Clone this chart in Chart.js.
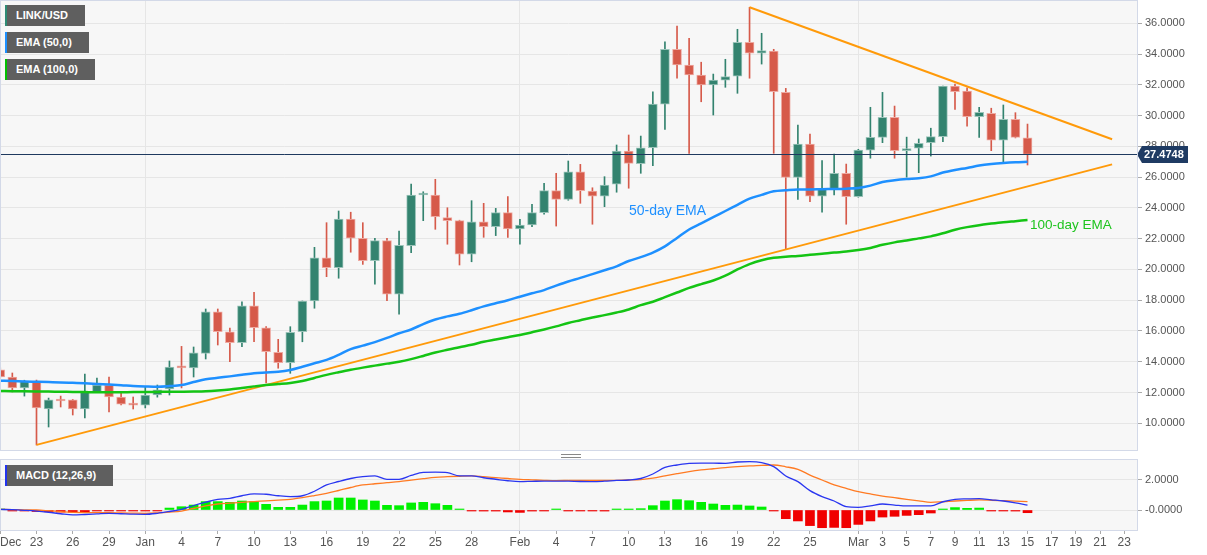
<!DOCTYPE html>
<html>
<head>
<meta charset="utf-8">
<title>LINK/USD</title>
<script src="https://cdn.jsdelivr.net/npm/chart.js@4.4.1/dist/chart.umd.min.js"></script>
<style>
  html, body { margin: 0; padding: 0; background: #fff; }
  body { position: relative; width: 1207px; height: 555px; overflow: hidden; font-family: "Liberation Sans", Arial, sans-serif; }
  canvas { position: absolute; left: 0; }
  #mainChart { top: 0; }
  #macdChart { top: 452px; }
  .tag { position: absolute; left: 5px; height: 21px; line-height: 21px; background: #5f5f5f; color: #fff; font-size: 11px; font-weight: bold; padding: 0 17px 0 9px; border-left: 2px solid; white-space: nowrap; }
  .note { position: absolute; white-space: nowrap; }
  .grip { position: absolute; left: 561px; top: 454px; width: 20px; height: 2px; border-top: 1px solid #888; border-bottom: 1px solid #888; }
</style>
</head>
<body>
<canvas id="mainChart" width="1207" height="452"></canvas>
<canvas id="macdChart" width="1207" height="103"></canvas>
<div class="tag" style="top:5px;border-color:#2e8b75">LINK/USD</div>
<div class="tag" style="top:32px;border-color:#1e90ff">EMA (50,0)</div>
<div class="tag" style="top:59px;border-color:#00c000">EMA (100,0)</div>
<div class="tag" style="top:465px;border-color:#2233ee">MACD (12,26,9)</div>
<div class="note" style="left:629px;top:202px;font-size:14px;color:#1e90ff">50-day EMA</div>
<div class="note" style="left:1030px;top:217px;font-size:13.5px;color:#1ec41e">100-day EMA</div>
<div class="grip"></div>
<script>
// daily candles, Dec 20 .. Mar 15
const dates = [
  '2020-12-20','2020-12-21','2020-12-22','2020-12-23','2020-12-24','2020-12-25','2020-12-26','2020-12-27','2020-12-28','2020-12-29','2020-12-30','2020-12-31',
  '2021-01-01','2021-01-02','2021-01-03','2021-01-04','2021-01-05','2021-01-06','2021-01-07','2021-01-08','2021-01-09','2021-01-10',
  '2021-01-11','2021-01-12','2021-01-13','2021-01-14','2021-01-15','2021-01-16','2021-01-17','2021-01-18','2021-01-19','2021-01-20',
  '2021-01-21','2021-01-22','2021-01-23','2021-01-24','2021-01-25','2021-01-26','2021-01-27','2021-01-28','2021-01-29','2021-01-30','2021-01-31',
  '2021-02-01','2021-02-02','2021-02-03','2021-02-04','2021-02-05','2021-02-06','2021-02-07','2021-02-08','2021-02-09','2021-02-10',
  '2021-02-11','2021-02-12','2021-02-13','2021-02-14','2021-02-15','2021-02-16','2021-02-17','2021-02-18','2021-02-19','2021-02-20',
  '2021-02-21','2021-02-22','2021-02-23','2021-02-24','2021-02-25','2021-02-26','2021-02-27','2021-02-28',
  '2021-03-01','2021-03-02','2021-03-03','2021-03-04','2021-03-05','2021-03-06','2021-03-07','2021-03-08','2021-03-09','2021-03-10',
  '2021-03-11','2021-03-12','2021-03-13','2021-03-14','2021-03-15'
];
const openP = [
  13.47,13.01,12.30,12.69,10.93,11.55,11.52,10.93,12.04,12.49,11.71,11.25,
  11.18,11.84,12.23,13.70,13.60,14.55,17.25,15.95,15.24,17.63,16.20,14.61,13.94,15.95,17.95,20.76,20.11,23.28,22.03,20.57,21.87,18.40,21.55,24.84,24.84,23.37,23.17,21.00,23.10,22.78,23.69,
  22.63,22.89,23.69,25.12,24.56,26.35,25.10,24.77,25.54,27.70,26.88,27.91,30.75,34.31,33.29,32.64,31.99,32.31,32.57,34.76,34.05,34.20,31.51,25.99,28.15,24.77,25.21,26.25,
  24.73,27.76,28.59,29.89,27.72,27.88,28.24,28.63,31.92,31.60,29.93,30.15,28.41,29.76,28.56
];
const highP = [
  13.60,13.27,12.80,12.81,11.64,11.77,11.55,13.20,12.94,13.01,11.96,11.71,
  12.36,12.49,14.05,15.00,14.96,17.43,17.43,16.19,17.90,18.52,16.28,15.46,16.28,17.95,21.44,23.04,23.80,23.72,23.04,22.03,22.03,22.50,25.55,25.05,25.86,24.01,23.20,24.47,24.30,23.97,24.73,
  23.26,24.24,25.60,26.25,27.05,26.83,25.31,26.03,28.09,28.74,28.67,31.55,34.80,35.82,35.02,33.47,32.70,33.66,35.61,37.04,35.35,34.31,31.77,29.39,28.80,27.07,27.50,26.85,
  27.81,30.54,31.51,30.62,28.60,28.48,29.18,31.92,32.05,31.81,30.54,30.48,30.69,30.19,29.45
];
const lowP = [
  12.95,12.04,11.77,8.59,9.76,11.06,10.54,10.35,12.00,10.74,11.19,10.93,
  11.00,11.70,11.84,12.30,13.01,14.18,15.09,14.00,14.98,15.30,12.62,13.58,13.25,15.30,17.48,19.53,19.43,21.12,20.33,19.04,17.97,17.09,21.09,23.17,22.61,21.64,20.29,20.50,22.09,22.20,22.09,
  21.64,22.78,23.59,22.82,24.50,24.30,22.94,24.08,25.02,25.28,26.25,26.74,29.11,32.43,27.55,30.90,30.04,31.84,31.45,32.43,33.35,27.55,21.31,24.56,24.40,23.72,24.84,22.94,
  24.70,27.23,28.24,27.23,26.00,26.29,27.37,28.30,30.41,29.32,28.59,27.72,27.00,28.55,26.79
];
const closeP = [
  13.01,12.30,12.75,11.00,11.52,11.45,10.93,12.04,12.49,11.71,11.25,11.18,
  11.84,12.17,13.66,13.60,14.58,17.25,15.95,15.24,17.63,16.21,14.65,13.94,15.92,17.95,20.76,20.11,23.28,22.03,20.57,21.87,18.40,21.57,24.84,24.90,23.43,23.17,21.00,23.10,22.78,23.69,22.63,
  22.89,23.69,25.12,24.56,26.35,25.12,24.77,25.49,27.70,26.90,27.91,30.75,34.31,33.29,32.64,31.99,32.31,32.53,34.76,34.05,34.22,31.55,25.99,28.15,24.77,25.21,26.25,24.73,
  27.76,28.59,29.89,27.72,27.83,28.20,28.63,31.92,31.55,29.93,30.21,28.41,29.76,28.59,27.4748
];
const ema50 = [
  12.77,12.75,12.72,12.70,12.68,12.66,12.63,12.60,12.56,12.52,12.48,12.43,
  12.40,12.38,12.42,12.49,12.68,12.86,12.96,13.05,13.15,13.25,13.30,13.35,13.47,13.68,13.90,14.12,14.45,14.82,15.05,15.28,15.55,15.85,16.10,16.45,16.75,16.95,17.12,17.35,17.60,17.80,18.00,
  18.23,18.45,18.66,18.95,19.22,19.45,19.70,19.95,20.20,20.55,20.80,21.10,21.50,22.05,22.60,23.00,23.40,23.80,24.20,24.60,24.85,25.08,25.15,25.20,25.20,25.22,25.23,25.25,
  25.30,25.45,25.68,25.80,25.88,25.93,26.05,26.30,26.47,26.60,26.75,26.85,26.92,26.97,27.00
];
const ema100 = [
  12.10,12.09,12.08,12.07,12.06,12.05,12.04,12.03,12.02,12.02,12.02,12.03,
  12.03,12.04,12.05,12.05,12.06,12.08,12.13,12.20,12.30,12.40,12.49,12.55,12.62,12.75,12.95,13.15,13.32,13.48,13.62,13.75,13.88,14.00,14.17,14.38,14.60,14.78,14.95,15.10,15.30,15.45,15.60,
  15.74,15.92,16.10,16.30,16.52,16.70,16.88,17.03,17.20,17.40,17.68,17.90,18.20,18.50,18.80,19.05,19.28,19.60,20.00,20.35,20.60,20.76,20.83,20.88,20.95,21.02,21.10,21.16,
  21.26,21.40,21.60,21.76,21.88,22.02,22.15,22.35,22.58,22.75,22.88,22.98,23.07,23.14,23.21
];
const macdLine = [
  0.04,0.02,-0.02,-0.07,-0.15,-0.25,-0.33,-0.30,-0.26,-0.22,-0.25,-0.28,
  -0.29,-0.22,-0.10,0.04,0.30,0.52,0.71,0.78,0.95,1.07,1.05,0.95,0.89,0.95,1.25,1.67,1.90,2.10,2.22,2.27,2.04,2.04,2.30,2.51,2.52,2.49,2.27,2.27,2.15,2.05,1.95,
  1.89,1.91,1.93,1.93,1.92,1.90,1.89,1.92,1.97,2.00,2.10,2.40,2.84,3.00,3.11,3.12,3.12,3.11,3.20,3.22,3.16,2.89,2.27,1.89,1.29,0.89,0.60,0.22,
  0.18,0.28,0.40,0.33,0.27,0.27,0.27,0.55,0.71,0.74,0.76,0.68,0.60,0.48,0.33
];
const signalLine = [
  0.04,0.03,0.01,0.00,-0.05,-0.11,-0.16,-0.17,-0.18,-0.18,-0.20,-0.21,
  -0.22,-0.19,-0.14,-0.07,0.10,0.27,0.40,0.46,0.51,0.56,0.61,0.66,0.71,0.82,0.96,1.11,1.30,1.50,1.67,1.75,1.82,1.89,1.99,2.09,2.18,2.22,2.25,2.27,2.22,2.16,2.10,
  2.04,2.01,1.98,1.96,1.97,1.98,1.97,1.97,1.98,2.00,2.03,2.12,2.27,2.42,2.56,2.67,2.75,2.83,2.89,2.94,2.98,3.00,2.88,2.71,2.33,2.00,1.67,1.44,
  1.22,1.07,0.93,0.82,0.71,0.61,0.51,0.55,0.60,0.64,0.67,0.65,0.62,0.59,0.56
];
const macdHist = [
  0.02,-0.01,-0.03,-0.10,-0.12,-0.14,-0.15,-0.13,-0.06,-0.05,-0.05,-0.06,
  -0.05,-0.03,0.13,0.22,0.33,0.56,0.56,0.51,0.60,0.56,0.38,0.18,0.18,0.33,0.56,0.60,0.80,0.80,0.67,0.60,0.31,0.29,0.47,0.51,0.42,0.31,0.02,-0.02,-0.07,-0.07,-0.13,
  -0.16,-0.07,-0.05,0.02,-0.02,-0.05,-0.05,-0.07,0.02,0.02,0.09,0.29,0.60,0.69,0.62,0.51,0.40,0.31,0.33,0.27,0.20,-0.03,-0.58,-0.73,-1.04,-1.18,-1.16,-1.18,
  -0.96,-0.73,-0.47,-0.42,-0.36,-0.31,-0.20,0.02,0.16,0.11,0.13,-0.02,-0.03,-0.07,-0.18
];

// trend lines
const supportDates = ['2020-12-23', '2021-03-22'];
const supportValues = [8.6, 26.83];
const resistDates = ['2021-02-20', '2021-03-22'];
const resistValues = [37.04, 28.46];

const lastPrice = 27.4748;

// axis ticks
const priceTicks = [10, 12, 14, 16, 18, 20, 22, 24, 26, 28, 30, 32, 34, 36];
const macdTicks = [0, 2];
const macdTickLabels = ['-0.0000', '2.0000'];
const monthStarts = ['2021-01-01', '2021-02-01', '2021-03-01'];
const dateTicks = [
  '2020-12-20','2020-12-23','2020-12-26','2020-12-29','2021-01-01','2021-01-04','2021-01-07','2021-01-10','2021-01-13','2021-01-16',
  '2021-01-19','2021-01-22','2021-01-25','2021-01-28','2021-02-01','2021-02-04','2021-02-07','2021-02-10','2021-02-13','2021-02-16',
  '2021-02-19','2021-02-22','2021-02-25','2021-03-01','2021-03-03','2021-03-05','2021-03-07','2021-03-09','2021-03-11','2021-03-13',
  '2021-03-15','2021-03-17','2021-03-19','2021-03-21','2021-03-23'
];
const dateTickLabels = [
  'Dec','23','26','29','Jan','4','7','10','13','16',
  '19','22','25','28','Feb','4','7','10','13','16',
  '19','22','25','Mar','3','5','7','9','11','13',
  '15','17','19','21','23'
];

const base = Date.UTC(2020, 11, 23);
function dayOf(s) {
  return (Date.parse(s + 'T00:00:00Z') - base) / 86400000;
}
const days = dates.map(dayOf);
const monthDays = monthStarts.map(dayOf);

const xMin = -3.02, xMax = 91.06;
const UP = '#33836f', DOWN = '#d65a4a';
const upDown = closeP.map((c, i) => c >= openP[i]);

Chart.defaults.font.family = '"Liberation Sans", Arial, sans-serif';
Chart.defaults.animation = false;

const panelPlugin = {
  id: 'panel',
  beforeDraw(chart) {
    const { ctx, chartArea: a } = chart;
    ctx.save();
    ctx.fillStyle = '#f7f7f7';
    ctx.fillRect(a.left, a.top, a.right - a.left, a.bottom - a.top);
    ctx.restore();
  },
  afterDraw(chart) {
    const { ctx, chartArea: a } = chart;
    ctx.save();
    ctx.strokeStyle = '#d3d9e8';
    ctx.lineWidth = 1;
    ctx.strokeRect(a.left + 0.5, a.top - 0.5, a.right - a.left, a.bottom - a.top + 1);
    ctx.restore();
  }
};

const priceLinePlugin = {
  id: 'priceLine',
  afterDatasetsDraw(chart) {
    const { ctx, chartArea: a, scales } = chart;
    const y = Math.round(scales.y.getPixelForValue(lastPrice)) + 0.5;
    ctx.save();
    ctx.strokeStyle = '#1f3a5f';
    ctx.lineWidth = 1;
    ctx.beginPath();
    ctx.moveTo(a.left, y);
    ctx.lineTo(a.right, y);
    ctx.stroke();
    const x0 = a.right;
    ctx.fillStyle = '#1f3b63';
    ctx.beginPath();
    ctx.moveTo(x0, y);
    ctx.lineTo(x0 + 5, y - 8.5);
    ctx.lineTo(x0 + 51, y - 8.5);
    ctx.lineTo(x0 + 51, y + 8.5);
    ctx.lineTo(x0 + 5, y + 8.5);
    ctx.closePath();
    ctx.fill();
    ctx.fillStyle = '#fff';
    ctx.font = 'bold 11px "Liberation Sans", Arial';
    ctx.textBaseline = 'middle';
    ctx.fillText(lastPrice.toFixed(4), x0 + 7, y + 0.5);
    ctx.restore();
  }
};

const dateLabelPlugin = {
  id: 'dateLabels',
  afterDraw(chart) {
    const { ctx, chartArea: a, scales } = chart;
    ctx.save();
    ctx.font = '12px "Liberation Sans", Arial';
    ctx.fillStyle = '#555';
    ctx.textBaseline = 'middle';
    dateTicks.forEach((s, i) => {
      const px = scales.x.getPixelForValue(dayOf(s));
      const w = ctx.measureText(dateTickLabels[i]).width;
      ctx.fillText(dateTickLabels[i], Math.max(0, px - w / 2), a.bottom + 13);
    });
    ctx.restore();
  }
};

function xy(arr) {
  return arr.map((v, i) => ({ x: days[i], y: v }));
}

const mainChart = new Chart(document.getElementById('mainChart'), {
  type: 'bar',
  data: {
    datasets: [
      {
        type: 'line', data: xy(ema50), borderColor: '#1e90ff', borderWidth: 2.5,
        pointRadius: 0, cubicInterpolationMode: 'monotone', order: 1
      },
      {
        type: 'line', data: xy(ema100), borderColor: '#14c414', borderWidth: 2.5,
        pointRadius: 0, cubicInterpolationMode: 'monotone', order: 1
      },
      {
        type: 'line', data: supportDates.map((s, i) => ({ x: dayOf(s), y: supportValues[i] })),
        borderColor: '#ff9a0a', borderWidth: 2, pointRadius: 0, order: 1
      },
      {
        type: 'line', data: resistDates.map((s, i) => ({ x: dayOf(s), y: resistValues[i] })),
        borderColor: '#ff9a0a', borderWidth: 2, pointRadius: 0, order: 1
      },
      {
        data: days.map((d, i) => ({ x: d, y: [lowP[i], highP[i]] })),
        backgroundColor: upDown.map(u => u ? UP : DOWN),
        barThickness: 1, grouped: false, order: 3
      },
      {
        data: days.map((d, i) => ({ x: d, y: [openP[i], closeP[i]] })),
        backgroundColor: upDown.map(u => u ? UP : DOWN),
        borderColor: upDown.map(u => u ? '#9cc4ba' : '#eeaaa2'),
        borderWidth: 1, borderSkipped: false, minBarLength: 2,
        barThickness: 9, grouped: false, order: 2
      }
    ]
  },
  options: {
    responsive: false,
    animation: false,
    events: [],
    layout: { padding: { top: 1, bottom: 2, left: 0, right: 0 } },
    plugins: { legend: { display: false }, tooltip: { enabled: false } },
    scales: {
      x: {
        type: 'linear', min: xMin, max: xMax, offset: false,
        afterBuildTicks: s => { s.ticks = monthDays.map(v => ({ value: v })); },
        afterFit: s => { s.height = 0; s.paddingLeft = 0; s.paddingRight = 0; },
        ticks: { display: false },
        grid: { color: '#e6e6e6', drawTicks: false, offset: false },
        border: { display: false }
      },
      y: {
        position: 'right', min: 8.265, max: 37.449,
        afterBuildTicks: s => { s.ticks = priceTicks.map(v => ({ value: v })); },
        afterFit: s => { s.width = 70; s.paddingTop = 0; s.paddingBottom = 0; },
        ticks: { color: '#555', font: { size: 11 }, padding: 3, callback: v => Number(v).toFixed(4) },
        grid: { color: '#e6e6e6', tickLength: 5, tickColor: '#aaa' },
        border: { display: false }
      }
    }
  },
  plugins: [panelPlugin, priceLinePlugin]
});

const macdChart = new Chart(document.getElementById('macdChart'), {
  type: 'bar',
  data: {
    datasets: [
      {
        type: 'line', data: xy(macdLine), borderColor: '#2a36f0', borderWidth: 1.3,
        pointRadius: 0, cubicInterpolationMode: 'monotone', order: 1
      },
      {
        type: 'line', data: xy(signalLine), borderColor: '#ff7a22', borderWidth: 1.3,
        pointRadius: 0, cubicInterpolationMode: 'monotone', order: 1
      },
      {
        data: xy(macdHist),
        backgroundColor: macdHist.map(v => v >= 0 ? '#00f000' : '#f00000'),
        barThickness: 9, minBarLength: 1, grouped: false, order: 2
      }
    ]
  },
  options: {
    responsive: false,
    animation: false,
    events: [],
    layout: { padding: { top: 8, bottom: 0, left: 0, right: 0 } },
    plugins: { legend: { display: false }, tooltip: { enabled: false } },
    scales: {
      x: {
        type: 'linear', min: xMin, max: xMax, offset: false,
        afterBuildTicks: s => { s.ticks = dateTicks.map(t => ({ value: dayOf(t) })); },
        afterFit: s => { s.height = 25; s.paddingLeft = 0; s.paddingRight = 0; },
        ticks: { display: false },
        grid: {
          color: c => (c.tick && monthDays.includes(c.tick.value)) ? '#e6e6e6' : 'rgba(0,0,0,0)',
          tickColor: '#aaa', tickLength: 4, offset: false
        },
        border: { display: false }
      },
      y: {
        position: 'right', min: -1.333, max: 3.333,
        afterBuildTicks: s => { s.ticks = macdTicks.map(v => ({ value: v })); },
        afterFit: s => { s.width = 70; s.paddingTop = 0; s.paddingBottom = 0; },
        ticks: { color: '#555', font: { size: 11 }, padding: 3, callback: (v, i) => macdTickLabels[i] },
        grid: { color: '#e6e6e6', tickLength: 5, tickColor: '#aaa' },
        border: { display: false }
      }
    }
  },
  plugins: [panelPlugin, dateLabelPlugin]
});
</script>
</body>
</html>
